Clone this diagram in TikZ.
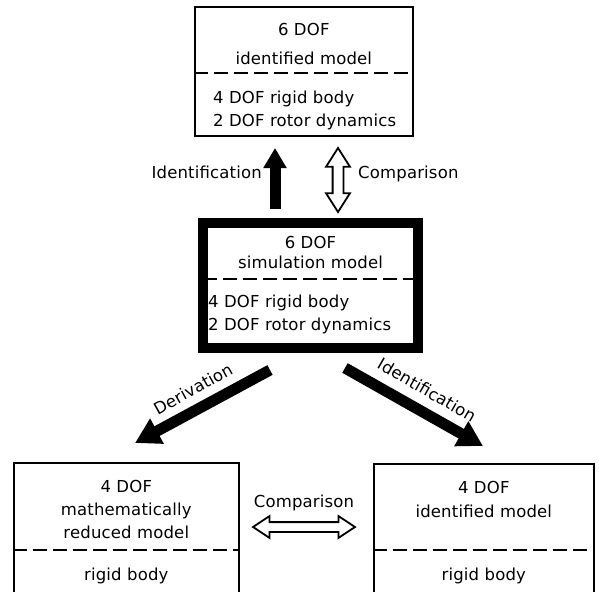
\documentclass[tikz,border=0pt]{standalone}
\usepackage{fontspec}
\setmainfont{DejaVu Sans}[LetterSpace=1]
\usetikzlibrary{arrows.meta,shapes.arrows,calc}
\begin{document}
\begin{tikzpicture}[x=1pt,y=-1pt,
  box/.style={draw, line width=1.6pt, rectangle, inner sep=0pt, anchor=north west},
  txt/.style={inner sep=0pt, anchor=base, font=\fontsize{16.5}{19}\selectfont},
  ltxt/.style={txt, anchor=base west},
  sepline/.style={line width=1.4pt, dash pattern=on 14pt off 6pt},
  blk/.style={line width=11pt, -{Triangle[width=22pt,length=20pt]}},
  diag/.style={line width=11pt, -{Triangle[width=27pt,length=25pt]}},
  hollow/.style={double arrow, draw, line width=1.8pt, fill=white, inner sep=4.5pt,
     double arrow head extend=6.5pt, double arrow tip angle=65}
]
\clip (0,0) rectangle (599,591);
\fill[white] (0,0) rectangle (599,591);

% boxes
\node[box, minimum width=218pt, minimum height=129pt] (top) at (194,6) {};
\node[box, line width=10pt, minimum width=215pt, minimum height=125pt] (mid) at (198,218) {};
\node[box, minimum width=225pt, minimum height=170pt] (bl) at (13,462) {};
\node[box, minimum width=220pt, minimum height=170pt] (br) at (373,463) {};

% top box
\node[txt] (t1) at ($(top.north)+(0,30)$) {6 DOF};
\node[txt] (t2) at ($(top.north)+(0,59)$) {identified model};
\draw[sepline] ($(top.north west)+(0,67)$) -- ($(top.north east)+(0,67)$);
\node[ltxt] (t3) at ($(top.north west)+(19,98)$) {4 DOF rigid body};
\node[ltxt] (t4) at ($(top.north west)+(19,121)$) {2 DOF rotor dynamics};

% middle box
\node[txt] (m1) at ($(mid.north)+(0,30)$) {6 DOF};
\node[txt] (m2) at ($(mid.north)+(0,50)$) {simulation model};
\draw[sepline] ($(mid.north west)+(5,61)$) -- ($(mid.north east)+(-5,61)$);
\node[ltxt] (m3) at ($(mid.north west)+(10,89)$) {4 DOF rigid body};
\node[ltxt] (m4) at ($(mid.north west)+(10,112)$) {2 DOF rotor dynamics};

% bottom left box
\node[txt] (l1) at ($(bl.north)+(0,30)$) {4 DOF};
\node[txt] (l2) at ($(bl.north)+(0,53)$) {mathematically};
\node[txt] (l3) at ($(bl.north)+(0,76)$) {reduced model};
\draw[sepline] ($(bl.north west)+(0,88)$) -- ($(bl.north east)+(0,88)$);
\node[txt] (l4) at ($(bl.north)+(0,118)$) {rigid body};

% bottom right box
\node[txt] (r1) at ($(br.north)+(0,30)$) {4 DOF};
\node[txt] (r2) at ($(br.north)+(0,54)$) {identified model};
\draw[sepline] ($(br.north west)+(0,87)$) -- ($(br.north east)+(0,87)$);
\node[txt] (r4) at ($(br.north)+(0,117)$) {rigid body};

% arrows
\coordinate (upTail) at (275,209);
\coordinate (upTip) at (275,148);
\draw[blk] (upTail) -- (upTip);
\node[txt, anchor=base east] (lblId) at (262,178) {Identification};

\node[hollow, minimum height=64pt, rotate=90] (cmpV) at (338,180) {};
\node[txt, anchor=base west] (lblCmp) at (358,178) {Comparison};

\coordinate (dTail) at (270,370);
\coordinate (dTip) at (135,443);
\draw[diag] (dTail) -- (dTip);
\node[txt, anchor=center, rotate=29] (lblDer) at (193,389) {Derivation};

\coordinate (iTail) at (345,368);
\coordinate (iTip) at (483,446);
\draw[diag] (iTail) -- (iTip);
\node[txt, anchor=center, rotate=-30] (lblId2) at (427,390) {Identification};

\node[hollow, inner sep=4pt, double arrow head extend=6pt, double arrow tip angle=67, minimum height=102pt] (cmpH) at (304,527) {};
\node[txt] (lblCmp2) at (304,507) {Comparison};
\end{tikzpicture}
\end{document}
